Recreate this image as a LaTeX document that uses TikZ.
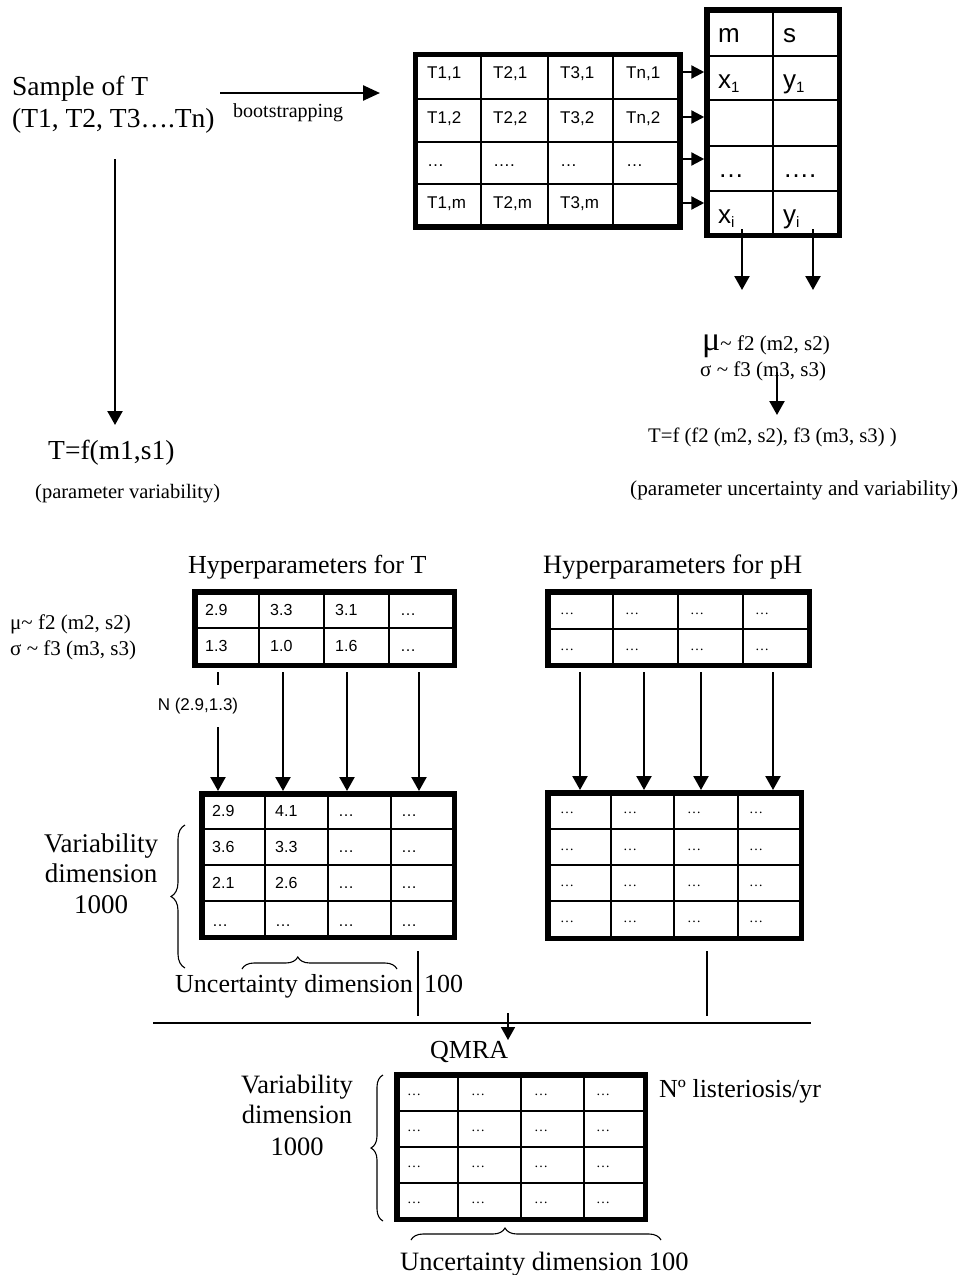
\documentclass[tikz,border=0pt]{standalone}
\usepackage{fontspec}
\setmainfont{Liberation Serif}
\newfontfamily\arialf{Liberation Sans}
\usetikzlibrary{arrows.meta,decorations.pathreplacing,calc}
\newcommand\fsz[1]{\fontsize{#1}{#1}\selectfont}
\newcommand\sbs[1]{\raisebox{-4pt}{\fsz{15}#1}}
\begin{document}
\begin{tikzpicture}[x=1pt,y=-1pt,
  tbl/.style={draw,line width=5.5pt,inner sep=0pt},
  gl/.style={line width=2.4pt},
  ln/.style={line width=1.5pt},
  arr/.style={line width=2.3pt,-{Triangle[length=14pt,width=15pt]}},
  arrs/.style={line width=2.3pt,-{Triangle[length=13pt,width=13pt]}},
  arrb/.style={line width=2.5pt,-{Triangle[length=17pt,width=15pt]}},
  brc/.style 2 args={line width=1.1pt,decorate,decoration={brace,amplitude=#1,aspect=#2}},
  tx/.style={anchor=base west,inner sep=0pt,font=\fsz{#1}},
  txc/.style={anchor=base,inner sep=0pt,font=\fsz{#1}},
  ar/.style={anchor=base west,inner sep=0pt,font=\arialf\fsz{#1}},
]
\useasboundingbox (0,0) rectangle (963,1275);

% ---------------- top left
\node[tx=27.5] (s1) at (12,95) {Sample of T};
\node[tx=27.5] (s2) at (12,127) {(T1, T2, T3….Tn)};
\coordinate (bsA) at (220,93);
\coordinate (bsB) at (380,93);
\draw[arrb] (bsA) -- (bsB);
\node[tx=20] (boot) at (233,117) {bootstrapping};
\coordinate (vA) at (115,159);
\coordinate (vB) at (115,425);
\draw[arr] (vA) -- (vB);
\node[tx=27.5] (tf1) at (48,459) {T=f(m1,s1)};
\node[tx=20.5] (pv) at (35,498) {(parameter variability)};

% ---------------- table 1
\node[tbl,minimum width=264.5pt,minimum height=172.5pt] (t1) at (547.75,140.75) {};
\foreach \x in {481,548,613} \draw[gl] (\x,54.5) -- (\x,227);
\foreach \y in {99,142,184} \draw[gl] (415.5,\y) -- (680,\y);
\foreach \t/\x/\y [count=\i] in {
  {T1,1}/427/78,{T2,1}/493/78,{T3,1}/560/78,{Tn,1}/626/78,
  {T1,2}/427/123,{T2,2}/493/123,{T3,2}/560/123,{Tn,2}/626/123,
  {…}/427/166,{….}/493/166,{…}/560/166,{…}/626/166,
  {T1,m}/427/208,{T2,m}/493/208,{T3,m}/560/208}
  \node[ar=17] (t1c\i) at (\x,\y) {\t};

% ---------------- table 2
\node[tbl,minimum width=132.5pt,minimum height=225.5pt] (t2) at (773.25,122.75) {};
\draw[gl] (773,10) -- (773,235.5);
\foreach \y in {56,100,146,191} \draw[gl] (707,\y) -- (839.5,\y);
\node[ar=26] (t2m) at (718,42) {m};
\node[ar=26] (t2s) at (783,42) {s};
\node[ar=26] (t2x1) at (718,88) {x\sbs{1}};
\node[ar=26] (t2y1) at (783,88) {y\sbs{1}};
\node[ar=26] (t2d1) at (718,177) {…};
\node[ar=26] (t2d2) at (783,177) {….};
\node[ar=26] (t2xi) at (718,223) {x\sbs{i}};
\node[ar=26] (t2yi) at (783,223) {y\sbs{i}};
\foreach \y in {72,117,159,203} \draw[arrs] (t1.east |- 0,\y) -- (t2.west |- 0,\y);
\coordinate (xo) at (742,229);
\coordinate (xe) at (742,290);
\coordinate (yo) at (813,229);
\coordinate (ye) at (813,290);
\draw[arr] (xo) -- (xe);
\draw[arr] (yo) -- (ye);

% ---------------- right formulas
\node[tx=21] (mu1) at (702,350) {{\fsz{34}μ}\textasciitilde{} f2 (m2, s2)};
\node[tx=21] (sg1) at (700,376) {σ \textasciitilde{} f3 (m3, s3)};
\coordinate (fA) at (777,372);
\coordinate (fB) at (777,415);
\draw[arr] (fA) -- (fB);
\node[tx=20.7] (tf2) at (648,442) {T=f (f2 (m2, s2), f3 (m3, s3) )};
\node[tx=21.2] (puv) at (630,495) {(parameter uncertainty and variability)};

% ---------------- hyperparameters
\node[tx=26] (hT) at (188,573) {Hyperparameters for T};
\node[tx=26.5] (hpH) at (543,573) {Hyperparameters for pH};
\node[tx=21] (mu2) at (10,629) {μ\textasciitilde{} f2 (m2, s2)};
\node[tx=21] (sg2) at (10,655) {σ \textasciitilde{} f3 (m3, s3)};

\node[tbl,minimum width=259.5pt,minimum height=73.5pt] (hTt) at (324.5,628.5) {};
\foreach \x in {259,324,389} \draw[gl] (\x,591.75) -- (\x,665.25);
\draw[gl] (194.75,628) -- (454.25,628);
\foreach \t/\x/\y [count=\i] in {2.9/205/615,3.3/270/615,3.1/335/615,…/400/615,
  1.3/205/651,1.0/270/651,1.6/335/651,…/400/651}
  \node[ar=16] (hTc\i) at (\x,\y) {\t};

\node[tbl,minimum width=261.5pt,minimum height=73.5pt] (hpHt) at (678.5,628.5) {};
\foreach \x in {613,678,743} \draw[gl] (\x,591.75) -- (\x,665.25);
\draw[gl] (547.75,629) -- (809.25,629);
\foreach \x [count=\i] in {560,625,690,755} {
  \node[tx=14] (hpa\i) at (\x,614) {…};
  \node[tx=14] (hpb\i) at (\x,650) {…};
}

% ---------------- variability tables
\node[tbl,minimum width=252.5pt,minimum height=143.5pt] (vT) at (328,865.5) {};
\foreach \x in {265,328,391} \draw[gl] (\x,793.75) -- (\x,937.25);
\foreach \y in {829,865,901} \draw[gl] (201.75,\y) -- (454.25,\y);
\foreach \t/\x/\y [count=\i] in {2.9/212/816,4.1/275/816,…/338/816,…/401/816,
  3.6/212/852,3.3/275/852,…/338/852,…/401/852,
  2.1/212/888,2.6/275/888,…/338/888,…/401/888,
  …/212/926,…/275/926,…/338/926,…/401/926}
  \node[ar=16] (vTc\i) at (\x,\y) {\t};

\node[tbl,minimum width=253.5pt,minimum height=145.5pt] (vpH) at (674.5,865.5) {};
\foreach \x in {611,674,738} \draw[gl] (\x,792.75) -- (\x,938.25);
\foreach \y in {829,865,901} \draw[gl] (547.75,\y) -- (801.25,\y);
\foreach \x [count=\i] in {560,623,687,749}
  \foreach \y [count=\j] in {813,850,886,922}
    \node[tx=14] (vpc\i-\j) at (\x,\y) {…};

\foreach \x in {218,283,347,419} \draw[arr,shorten <=4pt] (hTt.south -| \x,0) -- (vT.north -| \x,0);
\foreach \x in {580,644,701,773} \draw[arr,shorten <=4pt] (hpHt.south -| \x,0) -- (vpH.north -| \x,0);
\node[fill=white,inner sep=0pt,minimum height=42pt,minimum width=88pt,font=\arialf\fsz{17}] (nlab) at (198,706) {N (2.9,1.3)};

\node[txc=27] (va1) at (101,852) {Variability};
\node[txc=27] (va2) at (101,882) {dimension};
\node[txc=27] (va3) at (101,913) {1000};
\draw[brc={14pt}{0.5}] (185,968) -- (185,825);
\draw[brc={12pt}{0.36}] (242,969) -- (397,969);
\node[tx=26] (ud1) at (175,992) {Uncertainty dimension};
\node[tx=26] (ud2) at (424,992) {100};

% ---------------- merge lines
\coordinate (l1a) at (418,951);
\coordinate (l1b) at (418,1016);
\coordinate (l2a) at (707,951);
\coordinate (l2b) at (707,1016);
\coordinate (hla) at (153,1023);
\coordinate (hlb) at (811,1023);
\draw[ln] (l1a) -- (l1b);
\draw[ln] (l2a) -- (l2b);
\draw[line width=2pt] (hla) -- (hlb);
\coordinate (qA) at (508,1013);
\coordinate (qB) at (508,1040);
\draw[line width=1.8pt,-{Triangle[length=13pt,width=14pt]}] (qA) -- (qB);
\node[tx=26] (qmra) at (430,1058) {QMRA};

% ---------------- bottom table
\node[tbl,minimum width=248.5pt,minimum height=144.5pt] (bt) at (521,1147) {};
\foreach \x in {458,521,584} \draw[gl] (\x,1074.75) -- (\x,1219.25);
\foreach \y in {1111,1147,1183} \draw[gl] (396.75,\y) -- (645.25,\y);
\foreach \x [count=\i] in {407,471,534,596}
  \foreach \y [count=\j] in {1095,1131,1167,1203}
    \node[tx=14] (btc\i-\j) at (\x,\y) {…};
\node[tx=26] (nlist) at (659,1097) {Nº listeriosis/yr};
\node[txc=26.5] (vb1) at (297,1093) {Variability};
\node[txc=26.5] (vb2) at (297,1123) {dimension};
\node[txc=26.5] (vb3) at (297,1155) {1000};
\draw[brc={12pt}{0.5}] (383,1221) -- (383,1075);
\draw[brc={12pt}{0.376}] (411,1240) -- (661,1240);
\node[tx=26.5] (ub) at (400,1270) {Uncertainty dimension 100};
\end{tikzpicture}
\end{document}
